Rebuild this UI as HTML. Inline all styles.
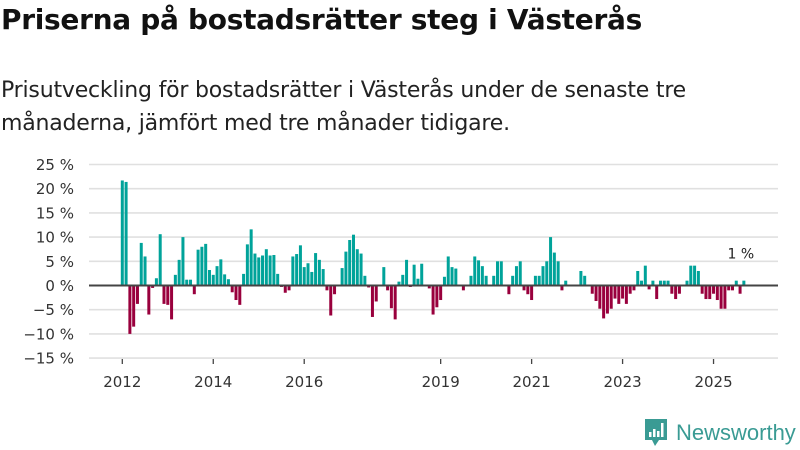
<!DOCTYPE html>
<html><head><meta charset="utf-8"><style>
body{margin:0;background:#fff;font-family:"DejaVu Sans","Liberation Sans",sans-serif;}
#wrap{position:relative;width:800px;height:450px;overflow:hidden;}
h1{position:absolute;left:1px;top:3px;margin:0;font-size:28px;font-weight:bold;color:#111;letter-spacing:-0.3px;white-space:nowrap;}
.sub{position:absolute;left:1px;top:74px;margin:0;font-size:22px;line-height:33px;color:#222;width:710px;letter-spacing:-0.2px;}
svg{position:absolute;left:0;top:0;}
</style></head><body>
<div id="wrap">
<h1>Priserna på bostadsrätter steg i Västerås</h1>
<p class="sub">Prisutveckling för bostadsrätter i Västerås under de senaste tre månaderna, jämfört med tre månader tidigare.</p>
<svg id="chart" width="800" height="450"></svg>
<div style="position:absolute;left:644px;top:419px;height:28px;display:flex;align-items:center;">
<svg width="24" height="30" viewBox="0 0 24 30" style="position:static"><path d="M1 1h22v21h-8l-4 6-3-6H1z" fill="#3a9b94"/><rect x="5" y="14" width="2.5" height="5" fill="#fff"/><rect x="9" y="11" width="2.5" height="8" fill="#fff"/><rect x="13" y="13" width="2.5" height="6" fill="#fff"/><rect x="17" y="5" width="2.5" height="14" fill="#fff"/></svg>
<span style="font-family:'Liberation Sans',sans-serif;font-size:22px;color:#3a9b94;margin-left:8px;">Newsworthy</span></div>
</div>
<script>
const values = [21.7,21.4,-10,-8.5,-3.8,8.8,6,-6,-0.5,1.5,10.6,-3.8,-4,-7,2.2,5.3,10,1.2,1.2,-1.8,7.4,8,8.6,3.2,2.2,4,5.4,2.3,1.3,-1.4,-3,-4,2.4,8.5,11.6,6.6,5.8,6.2,7.5,6.2,6.3,2.4,-0.3,
-1.5,-1,6,6.5,8.3,3.8,4.6,2.8,6.7,5.3,3.4,-1,-6.2,-1.8,0,3.6,7,9.4,10.5,7.5,6.6,2,-0.4,-6.5,-3.3,0,3.8,-1,-4.7,-7,0.8,2.2,5.3,-0.3,4.3,1.4,4.5,0,-0.6,-6,-4.5,-3,
1.8,6,3.8,3.5,0,-1,0,2,6,5.2,4,2,0,2,5,5,0,-1.8,2,4,5,-1,-1.8,-3,2,2,4,5,10,6.8,5,-1,1,0,0,0,3,2,0,-1.7,-3.2,-4.8,
-6.8,-5.8,-4.8,-2.7,-3.8,-2.7,-3.8,-1.7,-1,3,1,4.1,-0.8,1,-2.8,1,1,1,-1.7,-2.8,
-1.7,0,1,4.1,4.1,3,-1.7,-2.8,-2.8,-1.7,-3,-4.8,-4.8,-1,-1,1,-1.7,1];
const startYear = 2012;
const yTicks = [25,20,15,10,5,0,-5,-10,-15];
const yearLabels = [2012,2014,2016,2019,2021,2023,2025];
const NS='http://www.w3.org/2000/svg';
const svg=document.getElementById('chart');
const x0=122.3, step=3.79, zeroY=285.5, pxPer=4.84;
const xScale=i=>x0+i*step;
const yScale=v=>zeroY-v*pxPer;
const FF='DejaVu Sans, Liberation Sans, sans-serif';
function mk(t,a){const e=document.createElementNS(NS,t);for(const k in a)e.setAttribute(k,a[k]);svg.appendChild(e);return e;}
yTicks.forEach(t=>{
  if(t!==0){const g=mk('line',{x1:89,x2:778,y1:yScale(t),y2:yScale(t),stroke:'#e0e0e0','stroke-width':1.6});
  
  }
  const l=mk('text',{x:74,y:yScale(t)+5.5,'text-anchor':'end','font-size':15,fill:'#333','font-family':FF});
  l.textContent=(t<0?'\u2212'+(-t):t)+' %';
  
  
});
values.forEach((v,i)=>{
  const y=Math.min(yScale(v),zeroY),h=Math.abs(yScale(v)-zeroY);
  const b=mk('rect',{x:xScale(i)-1.5,y:y,width:3,height:h,fill:v>=0?'#00a39a':'#99003d'});
  
  
});
const z=mk('line',{x1:89,x2:778,y1:zeroY,y2:zeroY,stroke:'#444','stroke-width':2});


yearLabels.forEach(yr=>{
  const x=xScale((yr-startYear)*12);
  const tk=mk('line',{x1:x,x2:x,y1:359,y2:364,stroke:'#444','stroke-width':1.3});
  
  
  const t=mk('text',{x:x,y:387,'text-anchor':'middle','font-size':15,fill:'#333','font-family':FF});
  t.textContent=yr;
  
  
});
const last=values.length-1;
const lab=mk('text',{x:xScale(last)-3,y:yScale(values[last])-22,'text-anchor':'middle','font-size':14,fill:'#222','font-family':FF});
lab.textContent=Math.round(values[last])+' %';


</script>
</body></html>
